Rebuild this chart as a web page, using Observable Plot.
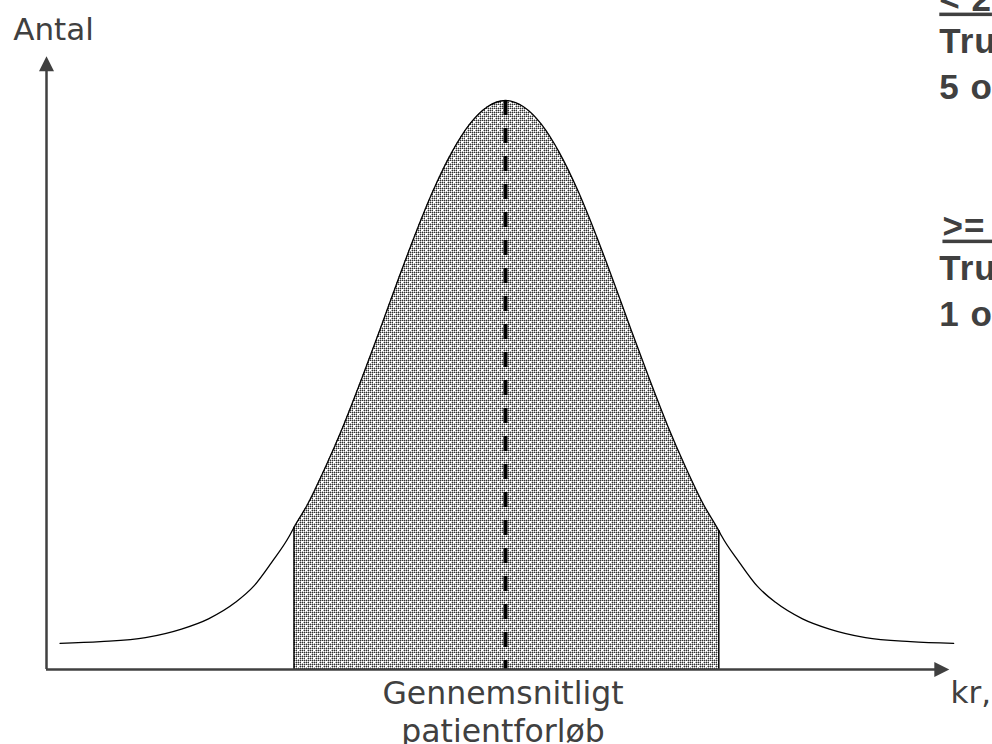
<!DOCTYPE html>
<html><head><meta charset="utf-8">
<script src="https://cdn.jsdelivr.net/npm/d3@7"></script>
<script src="https://cdn.jsdelivr.net/npm/@observablehq/plot@0.6"></script>
<style>
html,body{margin:0;padding:0;background:#fff;}
#chart{position:relative;width:992px;height:744px;overflow:hidden;}
#chart svg{overflow:hidden;}
</style></head><body><div id="chart"></div>
<script>
// Distribution curve (arbitrary units: x 0..100 along the kr axis, y 0..100 count)
const curveX = [1.5, 6, 11, 15, 18, 21, 23, 25, 27, 27.5, 29, 31, 33, 35, 37, 39, 41, 43, 45, 47, 49, 51,
                53, 55, 57, 59, 61, 63, 65, 67, 69, 71, 73, 74.7, 75, 77, 79, 81, 84, 87, 91, 96, 100.8];
const curveY = [4.6, 4.9, 5.6, 7.1, 8.9, 11.8, 14.6, 18.8, 23.5, 25.0, 29.0, 35.6, 42.9, 51.0, 59.5, 68.2, 76.6, 84.3, 90.8, 95.8, 98.9, 100,
                98.9, 95.8, 90.8, 84.3, 76.6, 68.2, 59.5, 51.0, 42.9, 35.6, 29.0, 24.4, 23.5, 18.8, 14.6, 11.8, 8.9, 7.1, 5.6, 4.9, 4.6];
const meanX = 51;
const peakY = 100;
const bandLow = 27.5;
const bandHigh = 74.7;
const bandEdgesX = [27.5, 74.7];
const bandEdgesTop = [25.0, 24.4];

// Texts
const yAxisLabel = "Antal";
const xAxisLabel = "kr,";
const meanLabel = "Gennemsnitligt\npatientforløb";
const noteLines = ["< 2", "Tru", "5 o", ">= 2", "Tru", "1 o"];
const noteUnderlined = [true, false, false, true, false, false];

// ---- build ----
const curve = curveX.map((x, i) => ({x, y: curveY[i]}));
const band = curve.filter(d => d.x >= bandLow && d.x <= bandHigh);
const edges = bandEdgesX.map((x, i) => ({x, top: bandEdgesTop[i]}));
const notes = noteLines.map((t, i) => ({t, u: noteUnderlined[i], i}));
const noteY = [115.8, 108.3, 100.2, 75.9, 68.4, 60.3];
const noteX = [99.2, 99.2, 99.2, 99.55, 99.2, 99.2];

const arrowHead = {
  draw(ctx) {
    ctx.moveTo(0, -10);
    ctx.lineTo(7.5, 5);
    ctx.lineTo(-7.5, 5);
    ctx.closePath();
  }
};

const ink = "#404040";
const sans = "'DejaVu Sans', Verdana, sans-serif";
const bold = "'Liberation Sans', Arial, sans-serif";

const svg = Plot.plot({
  width: 992,
  height: 744,
  marginLeft: 46,
  marginRight: 46,
  marginTop: 100,
  marginBottom: 75,
  x: {domain: [0, 100], axis: null},
  y: {domain: [0, 100], axis: null},
  style: {background: "#fff", overflow: "hidden"},
  marks: [
    Plot.areaY(band, {x: "x", y: "y", fill: "url(#dots)", curve: "monotone-x"}),
    Plot.ruleX(edges, {x: "x", y1: 0, y2: "top", stroke: "#000", strokeWidth: 1.5}),
    Plot.line(curve, {x: "x", y: "y", stroke: "#000", strokeWidth: 1.3, curve: "monotone-x"}),
    Plot.ruleX([meanX], {y1: peakY, y2: 0, stroke: "#000", strokeWidth: 4, strokeDasharray: "15,13"}),
    // axes
    Plot.ruleY([0], {x1: 0, x2: 99, stroke: ink, strokeWidth: 2.5}),
    Plot.ruleX([0], {y1: 0, y2: 105.5, stroke: ink, strokeWidth: 2.5}),
    Plot.dot([0], {x: 0, y: 106, symbol: arrowHead, fill: ink, stroke: "none", r: 6}),
    Plot.dot([0], {x: 99.2, y: 0, symbol: arrowHead, fill: ink, stroke: "none", r: 6, rotate: 90}),
    // labels
    Plot.text([yAxisLabel], {x: 0, y: 110.7, text: d => d, dx: 7, lineAnchor: "bottom", textAnchor: "middle",
      fill: ink, fontSize: 31, fontFamily: sans}),
    Plot.text([meanLabel], {x: meanX, y: 0, text: d => d, dx: -2.5, dy: 8, lineAnchor: "top", textAnchor: "middle",
      lineHeight: 1.19, fill: ink, fontSize: 31.5, fontFamily: sans}),
    Plot.text([xAxisLabel], {x: 100.44, y: 0, text: d => d, dy: 11, lineAnchor: "top", textAnchor: "start",
      fill: ink, fontSize: 31, fontFamily: sans}),
    Plot.text(notes, {x: d => noteX[d.i], y: d => noteY[d.i], text: "t", lineAnchor: "bottom", textAnchor: "start",
      fill: ink, fontSize: 35, fontWeight: "bold", fontFamily: bold, style: "letter-spacing:0.5px"})
  ]
});

// dotted fill pattern
const defs = d3.select(svg).insert("defs", ":first-child");
const pat = defs.append("pattern").attr("id", "dots").attr("patternUnits", "userSpaceOnUse")
  .attr("width", 8).attr("height", 8);
pat.append("rect").attr("width", 8).attr("height", 8).attr("fill", "#fff");
for (let px = 0; px < 8; px++) {
  for (let py = 0; py < 8; py++) {
    const ex = px % 2 === 0, ey = py % 2 === 0;
    let c = null;
    if (ex && ey) c = "#333";
    else if (ex !== ey) c = "#aaa";
    const hole = (px >= 1 && px <= 2 && py >= 1 && py <= 2) || (px >= 5 && px <= 6 && py >= 5 && py <= 6);
    if (c && !hole) pat.append("rect").attr("x", px).attr("y", py).attr("width", 1).attr("height", 1).attr("fill", c);
  }
}

// underline the headings of the notes; slightly wider letter spacing on the notes
d3.select(svg).selectAll("text").filter(function() {
  return noteLines.some((t, i) => noteUnderlined[i] && this.textContent === t);
}).style("text-decoration", "underline");
d3.select(svg).selectAll("text").filter(function() {
  return noteLines.includes(this.textContent);
}).style("letter-spacing", "1px");

document.getElementById("chart").appendChild(svg);
</script>
</body></html>
